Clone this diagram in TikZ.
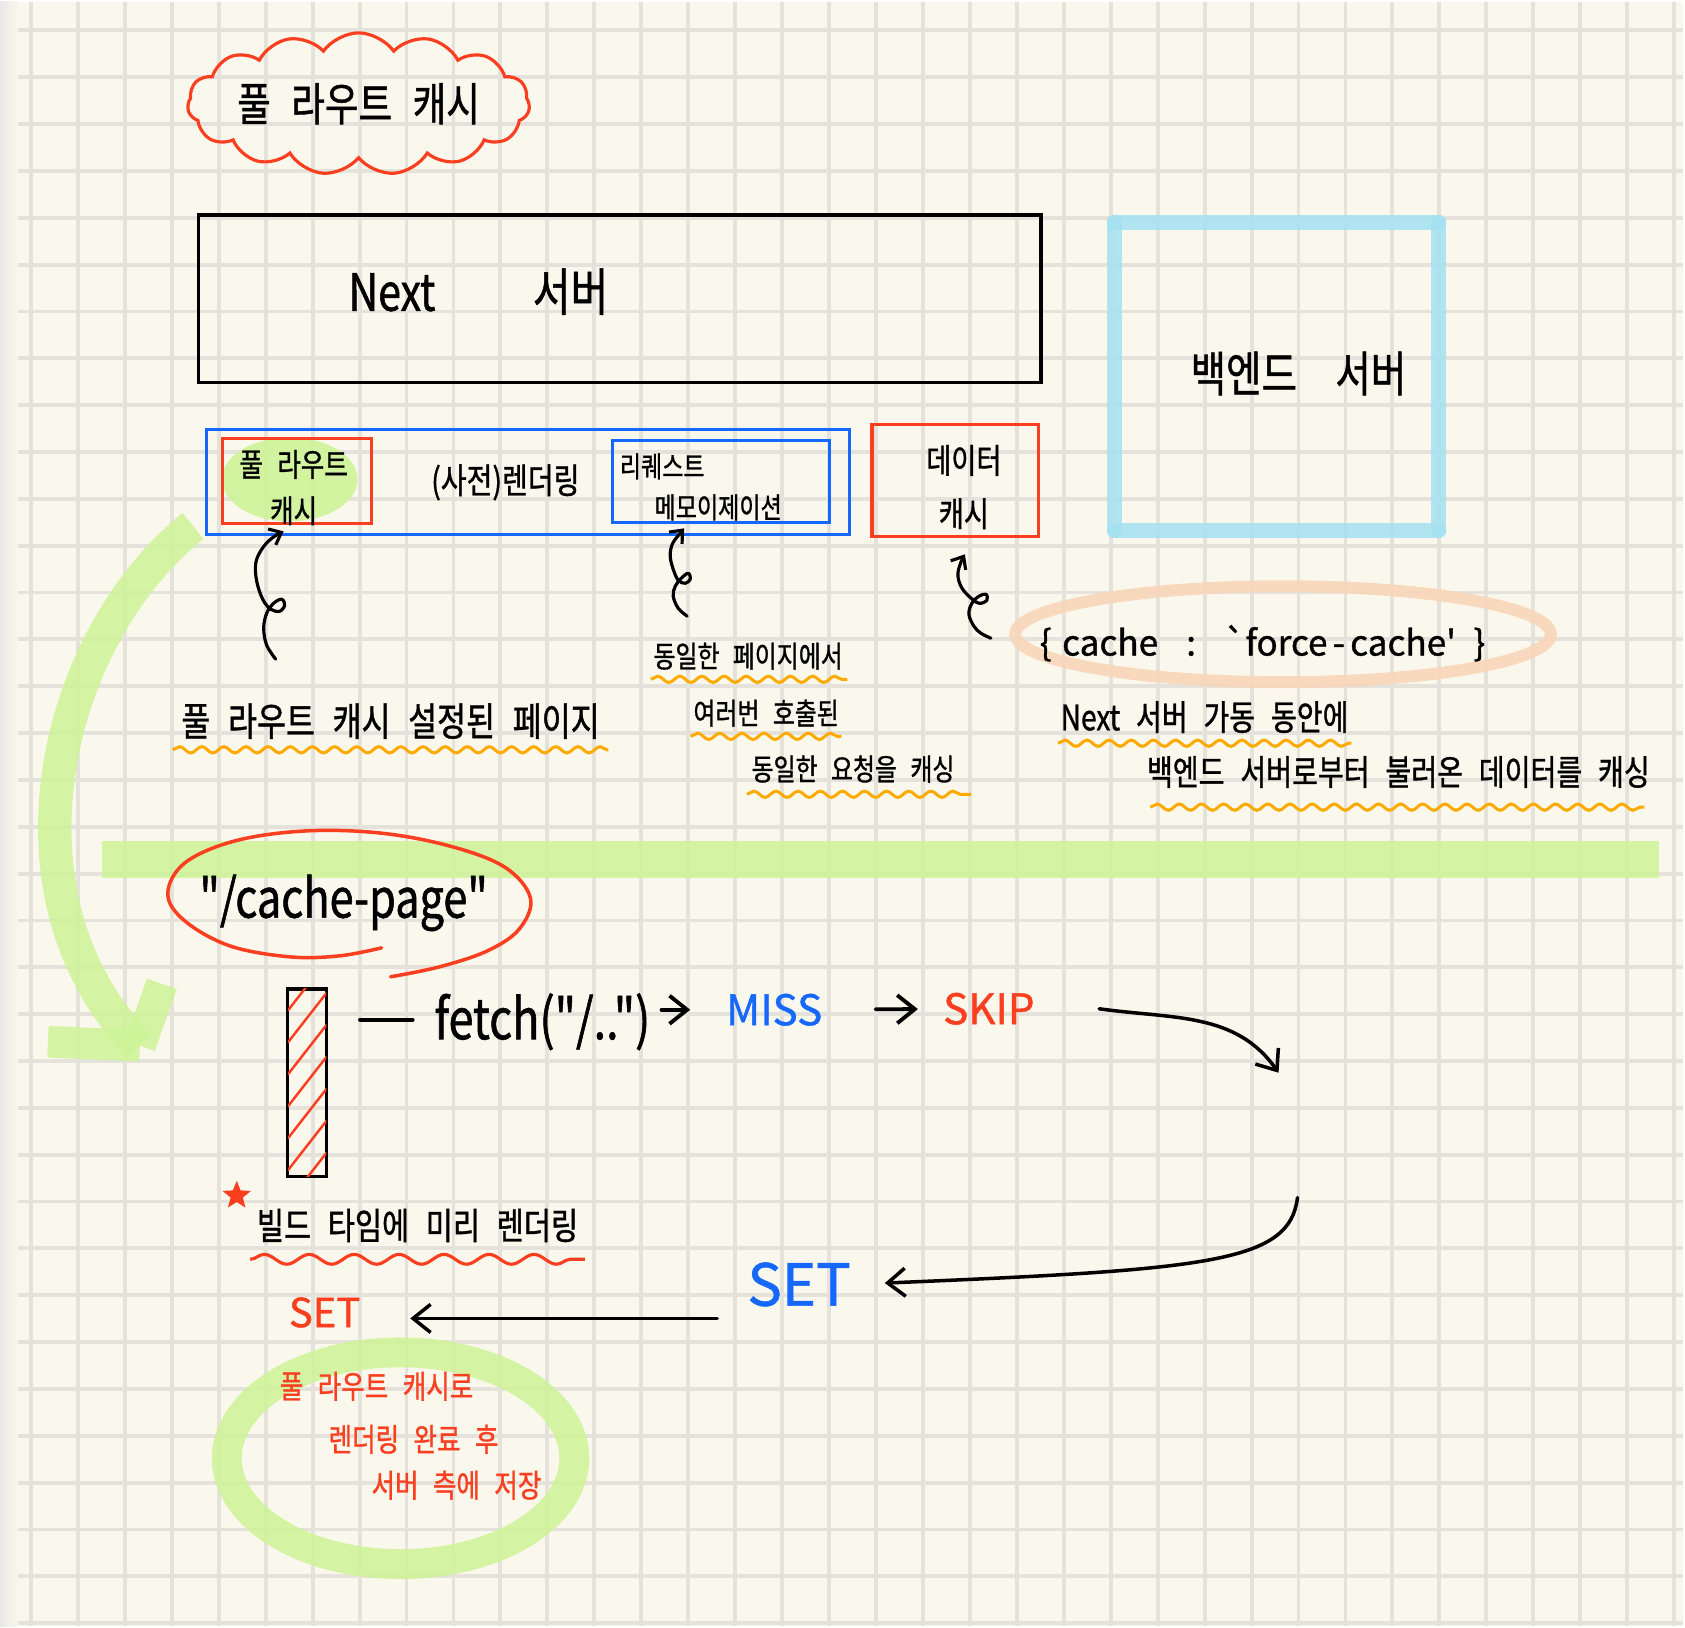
\documentclass[tikz,border=0pt]{standalone}
\usepackage{fontspec}
\usetikzlibrary{positioning}
\usetikzlibrary{calc}
\usetikzlibrary{arrows.meta}
\usetikzlibrary{shapes.symbols}
\usetikzlibrary{shapes.geometric}
\usetikzlibrary{decorations.pathmorphing}
\newfontfamily\hand{Noto Sans CJK KR}[FakeStretch=0.8, FakeBold=1]
\newfontfamily\handw{Noto Sans CJK KR}[FakeBold=1]
\newcommand\gp{\hspace{0.45em}}
\tikzset{txt/.style={inner sep=0pt, font={\hand\fontsize{#1}{#1}\selectfont}}}
\tikzset{ltxt/.style={inner sep=0pt, font={\handw\fontsize{#1}{#1}\selectfont}}}
\definecolor{paper}{RGB}{250,248,236}
\definecolor{gridc}{RGB}{228,226,218}
\definecolor{pred}{RGB}{250,62,32}
\definecolor{pblue}{RGB}{22,104,252}
\definecolor{hlblue}{RGB}{165,225,242}
\definecolor{hlgreen}{RGB}{206,244,152}
\definecolor{hlpeach}{RGB}{248,214,186}
\definecolor{worange}{RGB}{255,170,0}

\begin{document}
\begin{tikzpicture}[x=0.01cm, y=-0.01cm,
    pen/.style={line width=1pt, line cap=round, line join=round},
    arr/.style={-{Straight Barb[length=5pt,width=8pt]}},
    curl/.style={pen, line width=0.9pt, -{Straight Barb[length=3pt,width=5pt]}},
    boxline/.style={draw=#1, line width=0.9pt, inner sep=0pt},
    wavy/.style={draw=worange, line width=0.85pt, decorate, decoration={snake, segment length=6.3pt, amplitude=0.9pt}},
    hl/.style={line width=#1, draw=hlgreen, draw opacity=.85, line cap=butt},
    hlb/.style={line width=4.3pt, draw=hlblue, draw opacity=.85, line cap=round},
]
% paper
\fill[paper] (0,0) rectangle (1685,1626);
\shade[left color=black!9, right color=paper] (0,0) rectangle (18,1626);
\foreach \i in {0,...,35} \draw[gridc, line width=1.1pt] ({31+47*\i},0) -- ({31+47*\i},1626);
\foreach \j in {0,...,34} \draw[gridc, line width=1.1pt] (18,{28.5+46.9*\j}) -- (1685,{28.5+46.9*\j});
\useasboundingbox (0,0) rectangle (1685,1626);

% title
\node[cloud, cloud puffs=15, cloud puff arc=110, cloud ignores aspect, draw=pred, line width=0.9pt,
  minimum width=3.25cm, minimum height=1.42cm, txt=13pt] (title) at (359,102) {풀\gp 라우트\gp 캐시};

% servers
\node[boxline=black, line width=1.1pt, minimum width=8.43cm, minimum height=1.68cm] (nextsrv) at (620.5,297) {};
\node[txt=14.6pt] (nextlbl) at (479,290) {Next\hspace{1.9em}서버};
\node[minimum width=3.23cm, minimum height=3.07cm, inner sep=0pt] (backsrv) at (1278,375) {};
\draw[hlb] (backsrv.north west) -- (backsrv.north east);
\draw[hlb] (backsrv.north east) -- (backsrv.south east);
\draw[hlb] (backsrv.south east) -- (backsrv.south west);
\draw[hlb] (backsrv.south west) -- (backsrv.north west);
\node[txt=13.7pt] (backlbl) at (1300,372) {백엔드\hspace{0.8em}서버};

% caches
\node[boxline=pblue, minimum width=6.43cm, minimum height=1.05cm] (render) at (528.5,480.5) {};
\fill[hlgreen, opacity=.9] (290,478) ellipse [x radius=68, y radius=42];
\node[boxline=pred, minimum width=1.49cm, minimum height=0.85cm] (frcache) at (297,480) {};
\node[txt=9.1pt] (frc1) at (294,463) {풀\gp 라우트};
\node[txt=9.1pt, below=0.16cm of frc1] (frc2) {캐시};
\node[txt=10pt] (prerender) at (506,481) {(사전)렌더링};
\node[boxline=pblue, minimum width=2.17cm, minimum height=0.82cm] (memo) at (722,480) {};
\node[txt=8.2pt] (memo1) at (663,465) {리퀘스트};
\node[txt=8.2pt] (memo2) at (719,506) {메모이제이션};
\node[boxline=pred, minimum width=1.67cm, minimum height=1.12cm] (dcache) at (956.5,479) {};
\node[txt=9.7pt] (dc1) at (965,459) {데이터};
\node[txt=9.7pt, below=0.21cm of dc1] (dc2) {캐시};

% curly pointers
\coordinate (curlA) at (276,658);
\coordinate (curlB) at (688,615);
\coordinate (curlC) at (992,637);
\begin{scope}[shift={(curlA)}]
\draw[curl] plot[smooth, tension=.6] coordinates {(0,0) (-9,-14) (-12,-31) (-9,-46) (-2,-56) (6,-60) (9,-54) (4,-48) (-5,-50) (-13,-60) (-19,-78) (-20,-96) (-14,-110) (-4,-121) (8,-128)};
\end{scope}
\begin{scope}[shift={(curlB)}]
\draw[curl] plot[smooth, tension=.6] coordinates {(0,0) (-9,-8) (-14,-20) (-12,-30) (-6,-38) (1,-43) (3,-37) (-2,-33) (-9,-36) (-14,-47) (-17,-60) (-15,-72) (-8,-82) (-3,-88)};
\end{scope}
\begin{scope}[shift={(curlC)}]
\draw[curl] plot[smooth, tension=.6] coordinates {(0,0) (-10,-5) (-17,-12) (-22,-24) (-19,-35) (-12,-42) (-5,-44) (-4,-38) (-12,-35) (-22,-42) (-30,-52) (-33,-64) (-30,-76) (-26,-84)};
\end{scope}

% notes
\node[txt=11.2pt] (lblfr) at (391,720) {풀\gp 라우트\gp 캐시\gp 설정된\gp 페이지};
\draw[wavy] ($(lblfr.base west)+(-8,14)$) -- ($(lblfr.base east)+(8,14)$);
\node[txt=8.5pt] (lblm1) at (749,655) {동일한\gp 페이지에서};
\draw[wavy] ($(lblm1.base west)+(-2,12)$) -- ($(lblm1.base east)+(4,12)$);
\node[txt=8.5pt] (lblm2) at (767,712) {여러번\gp 호출된};
\draw[wavy] ($(lblm2.base west)+(-2,12)$) -- ($(lblm2.base east)+(2,12)$);
\node[txt=8.5pt] (lblm3) at (854,768) {동일한\gp 요청을\gp 캐싱};
\draw[wavy] ($(lblm3.base west)+(-4,14)$) -- ($(lblm3.base east)+(16,14)$);

\node[ellipse, draw=hlpeach, draw opacity=.9, line width=3.4pt, minimum width=5.36cm, minimum height=0.96cm] (forcering) at (1284.5,633) {};
\node[ltxt=10pt] (forcec) at (1264,642) {\{\hspace{.3em}cache\hspace{.8em}:\hspace{.8em}`force\hspace{.15em}-\hspace{.15em}cache'\hspace{.5em}\}};
\node[txt=10pt] (lbld1) at (1206,716) {Next\gp 서버\gp 가동\gp 동안에};
\draw[wavy] ($(lbld1.base west)+(-2,13)$) -- ($(lbld1.base east)+(2,13)$);
\node[txt=10pt] (lbld2) at (1400,771) {백엔드\gp 서버로부터\gp 불러온\gp 데이터를\gp 캐싱};
\draw[wavy] ($(lbld2.base west)+(4,22)$) -- ($(lbld2.base east)+(-6,22)$);

% divider
\fill[hlgreen, opacity=.85] (102,840) rectangle (1661,877);
\coordinate (arcend) at (140,1045);
\draw[hl=9.5pt] ($(render.south west)+(-12,-10)$) .. controls (50,640) and (-5,900) .. (arcend);
\draw[hl=9pt] (arcend) -- ++(-92,-4);
\draw[hl=9pt] (arcend) -- ++(22,-62);

% request flow
\node[txt=15.4pt] (pagelbl) at (344,902) {"/cache-page"};
\draw[pred, pen] plot[smooth, tension=.6] coordinates {(382,947) (340,955) (290,956) (230,945) (185,920) (168,893) (185,862) (235,840) (305,830) (380,832) (450,845) (505,866) (531,897) (520,928) (488,950) (440,966) (391,976)};
\node[boxline=black, line width=1pt, minimum width=0.39cm, minimum height=1.88cm] (page) at (307.5,1082) {};
\begin{scope}
\clip ($(page.north west)+(2,2)$) rectangle ($(page.south east)+(-2,-2)$);
\foreach \k in {0,...,6} \draw[pred, line width=0.7pt] (288,{1010+32*\k}) -- (327,{960+32*\k});
\end{scope}
\node[txt=16pt] (fetch) at (543,1021) {fetch("/..")};
\draw[pen, line width=1.1pt, shorten <=9pt, shorten >=6pt] ($(page.east |- fetch.west)+(0,-2)$) -- ($(fetch.west)+(0,-2)$);
\node[ltxt=12pt, text=pblue] (miss) at (775,1009) {MISS};
\node[ltxt=12pt, text=pred] (skip) at (990,1008) {SKIP};
\draw[pen, line width=1.1pt, arr, shorten <=3pt, shorten >=10pt] (fetch.east |- miss) -- (miss);
\draw[pen, line width=1.1pt, arr, shorten <=15pt, shorten >=7pt] (miss) -- (skip);
\coordinate (skipend) at (1280,1072);
\draw[pen, line width=1pt, arr] ($(skip.east)+(64,0)$) to[out=-8, in=125] (skipend);

\node[ltxt=16.5pt, text=pblue] (setb) at (800,1284) {SET};
\coordinate (retstart) at (1299,1197);
\draw[pen, line width=1pt, arr, shorten >=9.5pt] (retstart) .. controls +(-8,65) and +(360,-15) .. (setb.east);
\node[ltxt=11.4pt, text=pred] (setr) at (325,1312) {SET};
\coordinate (setstart) at (718,1318);
\draw[pen, line width=1pt, arr, shorten >=14pt] (setstart) -- (setr.east |- setstart);

\node[star, star points=5, star point ratio=2.3, draw=pred, fill=pred, line width=0.6pt, minimum size=0.24cm, inner sep=0pt] (mark) at (237,1195) {};
\node[txt=10.5pt] (build) at (418,1225) {빌드\gp 타임에\gp 미리\gp 렌더링};
\draw[pred, line width=0.9pt, decorate, decoration={snake, segment length=12.8pt, amplitude=1.4pt}] ($(build.base west)+(-6,20)$) -- ($(build.base east)+(6,20)$);

\draw[hl=8.5pt] (401,1458) ellipse [x radius=174, y radius=106];
\node[txt=9.1pt, text=pred] (note1) at (377,1386) {풀\gp 라우트\gp 캐시로};
\node[txt=9.1pt, text=pred] (note2) at (414,1439) {렌더링\gp 완료\gp 후};
\node[txt=9.1pt, text=pred] (note3) at (457,1485) {서버\gp 측에\gp 저장};
\end{tikzpicture}
\end{document}
